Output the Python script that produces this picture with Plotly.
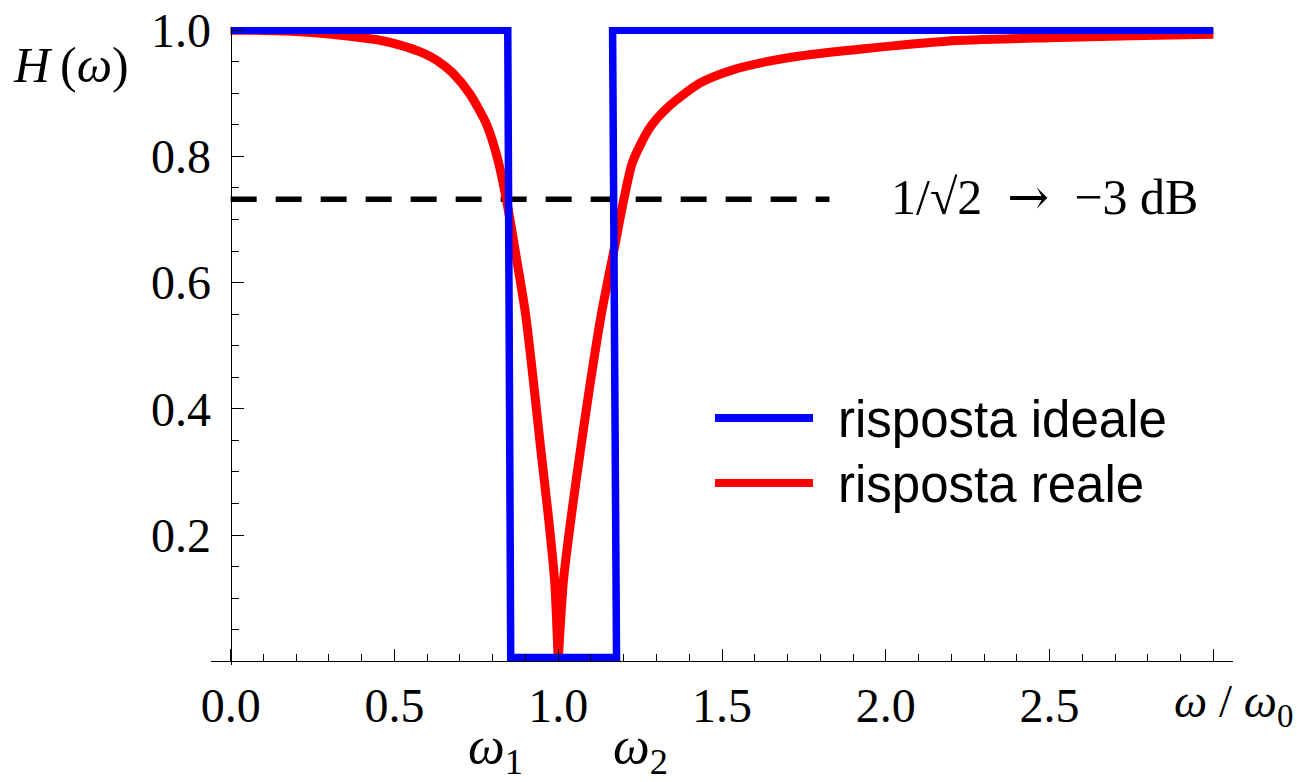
import plotly.graph_objects as go

# ---------------- data ----------------
ideal_x = [0.0, 0.846, 0.855, 1.178, 1.166, 3.0]
ideal_y = [1.0, 1.0, 0.006, 0.006, 1.0, 1.0]

# real response: left branch and right branch meet at the notch (1.0, 0.0)
real_left_x = [0.0, 0.1, 0.2, 0.3, 0.4, 0.455, 0.52, 0.577, 0.63, 0.678, 0.73, 0.781,
               0.812, 0.842, 0.872, 0.900, 0.924, 0.946, 0.969, 0.989, 1.0]
real_left_y = [1.0, 0.9995, 0.998, 0.994, 0.988, 0.984, 0.976, 0.966, 0.952, 0.932, 0.899, 0.851,
               0.802, 0.731, 0.640, 0.551, 0.445, 0.339, 0.234, 0.128, 0.0]
real_right_x = [1.0, 1.016, 1.041, 1.069, 1.099, 1.132, 1.172, 1.20, 1.227, 1.279, 1.331,
                1.432, 1.532, 1.636, 1.737, 1.941, 2.186, 2.5, 2.75, 3.0]
real_right_y = [0.0, 0.128, 0.234, 0.339, 0.445, 0.551, 0.656, 0.731, 0.791, 0.845, 0.876,
                0.916, 0.937, 0.950, 0.959, 0.971, 0.9825, 0.988, 0.991, 0.9937]

cut_x = [0.0, 1.828]
cut_y = [0.732, 0.732]

x_ticks = [0.0, 0.5, 1.0, 1.5, 2.0, 2.5]
x_ticktext = ["0.0", "0.5", "1.0", "1.5", "2.0", "2.5"]
x_end_tick = [3.0]
x_minor = [round(0.1 * i, 1) for i in range(1, 30)]
y_ticks = [0.2, 0.4, 0.6, 0.8, 1.0]
y_ticktext = ["0.2", "0.4", "0.6", "0.8", "1.0"]
y_minor = [round(0.05 * i, 2) for i in range(1, 20)]

legend_names = ["risposta ideale", "risposta reale"]
colors = ["#0000FF", "#FF0000"]

# ---------------- layout geometry ----------------
W, H = 1297, 782
ML, MR, MT, MB = 211, 64, 27, 117
XR = [-0.06, 3.06]
YR = [-0.006, 1.005]
PW, PH = W - ML - MR, H - MT - MB
XPOS = (0 - YR[0]) / (YR[1] - YR[0])   # x axis drawn at y = 0
YPOS = (0 - XR[0]) / (XR[1] - XR[0])   # y axis drawn at x = 0


def px(xp):
    return (xp - ML) / PW


def py(yp):
    return 1 - (yp - MT) / PH


SERIF = "Liberation Serif"
SANS = "Liberation Sans"

real_x = real_left_x + [None] + real_right_x
real_y = real_left_y + [None] + real_right_y

fig = go.Figure()
fig.add_trace(go.Scatter(x=cut_x, y=cut_y, mode="lines",
                         line=dict(color="black", width=5.5, dash="26px,19px"),
                         showlegend=False, hoverinfo="skip"))
fig.add_trace(go.Scatter(x=real_x, y=real_y, mode="lines", name=legend_names[1],
                         line=dict(color=colors[1], width=9, shape="spline", smoothing=0.7),
                         connectgaps=False, showlegend=False))
fig.add_trace(go.Scatter(x=ideal_x, y=ideal_y, mode="lines", name=legend_names[0],
                         line=dict(color=colors[0], width=7.5), showlegend=False))

axis_common = dict(showgrid=False, zeroline=False, showline=True, linecolor="black",
                   linewidth=1.3, ticks="inside", ticklen=12, tickwidth=1.2, automargin=False,
                   tickcolor="black", tickfont=dict(family=SERIF, size=48, color="black"))

fig.update_layout(
    width=W, height=H,
    margin=dict(l=ML, r=MR, t=MT, b=MB, pad=0, autoexpand=False),
    paper_bgcolor="white", plot_bgcolor="white",
    showlegend=False,
    xaxis=dict(range=XR, anchor="free", position=XPOS,
               tickmode="array", tickvals=x_ticks, ticktext=x_ticktext,
               minor=dict(tickmode="array", tickvals=x_minor, ticks="inside",
                          ticklen=7, tickwidth=1, tickcolor="black"),
               ticklabelstandoff=2, **axis_common),
    xaxis2=dict(range=XR, anchor="free", position=XPOS, overlaying="x",
                showgrid=False, zeroline=False, showline=False, automargin=False,
                tickmode="array", tickvals=x_end_tick, showticklabels=False,
                ticks="inside", ticklen=12, tickwidth=1.2, tickcolor="black"),
    yaxis=dict(range=YR, anchor="free", position=YPOS,
               tickmode="array", tickvals=y_ticks, ticktext=y_ticktext,
               minor=dict(tickmode="array", tickvals=y_minor, ticks="inside",
                          ticklen=7, tickwidth=1, tickcolor="black"),
               ticklabelstandoff=10, **axis_common),
)
# invisible trace to activate the second x axis (carries the 3.0 end tick)
fig.add_trace(go.Scatter(x=x_end_tick, y=[None], xaxis="x2", mode="lines",
                         showlegend=False, hoverinfo="skip"))

# legend drawn as line samples + labels
leg_rows = [418, 483]
for name, col, yp in zip(legend_names, colors, leg_rows):
    fig.add_shape(type="line", xref="paper", yref="paper",
                  x0=px(715), x1=px(813), y0=py(yp), y1=py(yp),
                  line=dict(color=col, width=8))
    fig.add_annotation(text=name, xref="paper", yref="paper", x=px(836), y=py(yp + 1),
                       xanchor="left", yanchor="middle", showarrow=False,
                       font=dict(family=SANS, size=51, color="black"))

fig.add_annotation(text="1/√2  <span style='font-family:DejaVu Serif'>→</span>  −3 dB",
                   xref="paper", yref="paper",
                   x=px(889), y=py(197), xanchor="left", yanchor="middle",
                   showarrow=False, font=dict(family=SERIF, size=50, color="black"))
fig.add_annotation(text="<i>H</i>\u2009(<i>ω</i>)", xref="paper", yref="paper",
                   x=px(71), y=py(65), xanchor="center", yanchor="middle",
                   showarrow=False, font=dict(family=SERIF, size=50, color="black"))
fig.add_annotation(text="<i>ω</i> / <i>ω</i><sub>0</sub>", xref="paper", yref="paper",
                   x=px(1295), y=py(704), xanchor="right", yanchor="middle",
                   showarrow=False, font=dict(family=SERIF, size=47, color="black"))
fig.add_annotation(text="<i>ω</i><sub>1</sub>", xref="paper", yref="paper",
                   x=px(466), y=py(749), xanchor="left", yanchor="middle",
                   showarrow=False, font=dict(family=SERIF, size=52, color="black"))
fig.add_annotation(text="<i>ω</i><sub>2</sub>", xref="paper", yref="paper",
                   x=px(611), y=py(749), xanchor="left", yanchor="middle",
                   showarrow=False, font=dict(family=SERIF, size=52, color="black"))

fig.write_html("out.html", config={"displayModeBar": False},
               post_script="document.body.style.margin='0';document.body.style.padding='0';")
